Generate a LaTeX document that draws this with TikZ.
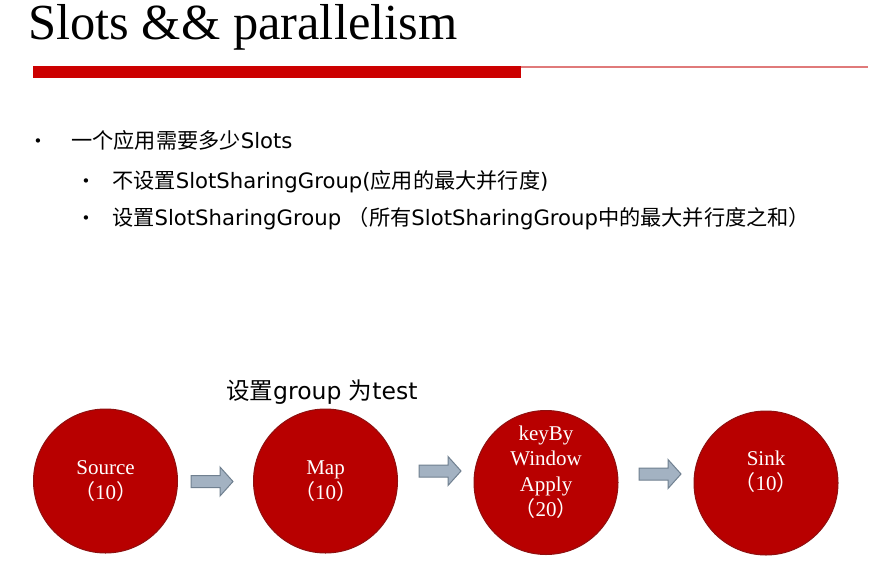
\documentclass[tikz,border=0pt]{standalone}
\usepackage{fontspec}
\setmainfont{Liberation Serif}
\newfontfamily\cjk{Noto Sans CJK SC}
\newfontfamily\vsans{DejaVu Sans}

\definecolor{barred}{HTML}{CC0000}
\definecolor{linered}{HTML}{E07A7A}
\definecolor{opfill}{HTML}{B80000}
\definecolor{opedge}{HTML}{8E1010}
\definecolor{arrowfill}{HTML}{A3B2C2}
\definecolor{arrowedge}{HTML}{708090}

\tikzset{
  opnode/.style={circle, fill=opfill, draw=opedge, line width=1pt,
    minimum size=144pt, inner sep=0pt},
  oplabel/.style={text=white, align=center, inner sep=0pt,
    font=\fontsize{21}{25.5}\selectfont},
  bodytext/.style={anchor=base west, inner sep=0pt,
    font=\fontsize{21.2}{25}\selectfont},
  bulletmark/.style={anchor=base, inner sep=0pt,
    font=\vsans\fontsize{15}{17}\selectfont},
  blockarrow/.pic={
    \draw[fill=arrowfill, draw=arrowedge, line width=1pt]
      (0,-6) -- (29,-6) -- (29,-14.5) -- (42,0) -- (29,14.5)
      -- (29,6) -- (0,6) -- cycle;
  }
}

\begin{document}
\begin{tikzpicture}[x=1pt, y=-1pt]
  % page
  \fill[white] (0,0) rectangle (890,578);
  \useasboundingbox (0,0) rectangle (890,578);

  % title and rule
  \node[anchor=base west, inner sep=0pt, font=\fontsize{50.5}{55}\selectfont]
    (title) at (28,39.5) {Slots \&\& parallelism};
  \fill[linered] (33,65.5) rectangle (868,67.5);
  \fill[barred] (33,66) rectangle (521,78);

  % bullet list
  \node[bulletmark] (b1) at (38,146.5) {•};
  \node[bodytext] (t1) at (71,148) {\cjk 一个应用需要多少\vsans Slots};
  \node[bulletmark] (b2) at (86,186.5) {•};
  \node[bodytext] (t2) at (112,188)
    {\cjk 不设置\vsans SlotSharingGroup(\cjk 应用的最大并行度\vsans )};
  \node[bulletmark] (b3) at (86,223.5) {•};
  \node[bodytext] (t3) at (112,225)
    {\cjk 设置\vsans SlotSharingGroup \cjk （所有\vsans SlotSharingGroup\cjk 中的最大并行度之和）};

  % group annotation
  \node[bodytext, font=\fontsize{23.5}{27}\selectfont] (grp) at (226,399)
    {\cjk 设置\vsans group \cjk 为\vsans test};

  % operators
  \node[opnode] (src)  at (105.5,481) {};
  \node[opnode] (map)  at (325.5,481) {};
  \node[opnode] (win)  at (546,482.5) {};
  \node[opnode] (sink) at (766,483) {};

  \node[oplabel] (srct)  at (105.5,481) {Source\\{\cjk （}10{\cjk ）}};
  \node[oplabel] (mapt)  at (325.5,481) {Map\\{\cjk （}10{\cjk ）}};
  \node[oplabel] (wint)  at (546,472) {keyBy\\Window\\Apply\\{\cjk （}20{\cjk ）}};
  \node[oplabel] (sinkt) at (766,471.5) {Sink\\{\cjk （}10{\cjk ）}};

  % flow arrows between operators
  \pic at (191,481.5) {blockarrow};
  \pic at (419,471) {blockarrow};
  \pic at (639,474) {blockarrow};
\end{tikzpicture}
\end{document}
